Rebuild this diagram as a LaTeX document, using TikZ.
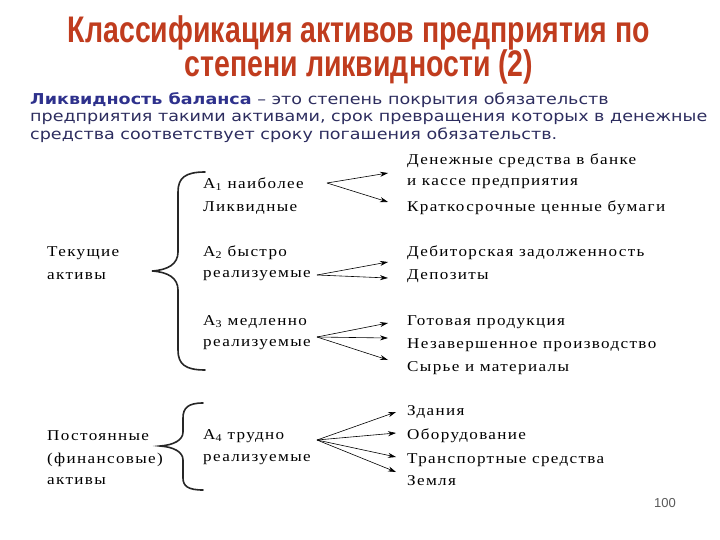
\documentclass[tikz,border=0pt]{standalone}
\usepackage{fontspec}
\setmainfont{Liberation Serif}
\newfontfamily\titlefont[FakeStretch=0.77]{Liberation Sans}
\newfontfamily\notefont[FakeStretch=1.17]{DejaVu Sans}
\newfontfamily\boxfont[LetterSpace=9,FakeStretch=1.14]{Liberation Serif}
\newfontfamily\numfont{Liberation Sans}
\usetikzlibrary{arrows.meta}
\definecolor{titlered}{RGB}{192,60,30}
\definecolor{notenavy}{RGB}{45,45,95}
\definecolor{boldnavy}{RGB}{46,49,140}

\tikzset{
  lbl/.style={anchor=west,inner sep=0pt,font=\boxfont\fontsize{15}{17}\selectfont},
  ttl/.style={inner sep=0pt,text=titlered,font=\titlefont\bfseries\fontsize{37}{37}\selectfont},
  arr/.style={-{Stealth[length=8pt,width=5pt]},semithick},
  brc/.style={line width=1.6pt,line cap=round,black!85},
}

\begin{document}
\begin{tikzpicture}[x=1pt,y=-1pt]
  \useasboundingbox (0,0) rectangle (720,540);

  % title
  \draw (359,33) node[ttl] (title1) {Классификация активов предприятия по};
  \draw (359,67) node[ttl] (title2) {степени ликвидности (2)};

  \draw (30,92) node[anchor=north west,inner sep=0pt,align=left,text=notenavy,
    font=\notefont\fontsize{15}{17.5}\selectfont] (note)
    {\textcolor{boldnavy}{\bfseries Ликвидность баланса} – это степень покрытия обязательств\\
     предприятия такими активами, срок превращения которых в денежные\\
     средства соответствует сроку погашения обязательств.};

  % left column
  \draw (47,253) node[lbl] (tek1) {Текущие};
  \draw (47,276) node[lbl] (tek2) {активы};
  \draw (47,436) node[lbl] (post1) {Постоянные};
  \draw (47,460) node[lbl] (post2) {(финансовые)};
  \draw (47,481) node[lbl] (post3) {активы};

  % groups
  \draw (203,184) node[lbl] (a1) {А\textsubscript{1} наиболее};
  \draw (203,208) node[lbl] (a1b) {Ликвидные};
  \draw (203,253) node[lbl] (a2) {А\textsubscript{2} быстро};
  \draw (203,276) node[lbl] (a2b) {реализуемые};
  \draw (203,322) node[lbl] (a3) {А\textsubscript{3} медленно};
  \draw (203,345) node[lbl] (a3b) {реализуемые};
  \draw (203,436) node[lbl] (a4) {А\textsubscript{4} трудно};
  \draw (203,460) node[lbl] (a4b) {реализуемые};

  % items
  \draw (407,161) node[lbl] (den1) {Денежные средства в банке};
  \draw (407,184) node[lbl] (den2) {и кассе предприятия};
  \draw (407,208) node[lbl] (kfv) {Краткосрочные ценные бумаги};
  \draw (407,253) node[lbl] (deb) {Дебиторская задолженность};
  \draw (407,276) node[lbl] (dep) {Депозиты};
  \draw (407,322) node[lbl] (gp) {Готовая продукция};
  \draw (407,345) node[lbl] (nzp) {Незавершенное производство};
  \draw (407,368) node[lbl] (syr) {Сырье и материалы};
  \draw (407,412) node[lbl] (zd) {Здания};
  \draw (407,436) node[lbl] (obr) {Оборудование};
  \draw (407,460) node[lbl] (trs) {Транспортные средства};
  \draw (407,481) node[lbl] (zem) {Земля};

  % braces
  \draw[brc] (205,172) .. controls (185,172) and (178,178) .. (178,192) -- (178,252)
    .. controls (178,264) and (168,270) .. (152,271)
    .. controls (168,272) and (178,278) .. (178,290) -- (178,350)
    .. controls (178,364) and (185,370) .. (205,370);
  \draw[brc] (203,403) .. controls (188,403) and (183,408) .. (183,418) -- (183,432)
    .. controls (183,440) and (174,445) .. (160,446)
    .. controls (174,447) and (183,452) .. (183,460) -- (183,478)
    .. controls (183,486) and (188,490) .. (203,490);

  % arrow ends
  \coordinate (o1) at (327,183);
  \coordinate (o2) at (317,275);
  \coordinate (o3) at (317,337);
  \coordinate (o4) at (317,440);
  \coordinate (t11) at (388,173);
  \coordinate (t12) at (388,202);
  \coordinate (t21) at (388,262);
  \coordinate (t22) at (388,278);
  \coordinate (t31) at (388,323);
  \coordinate (t32) at (388,338);
  \coordinate (t33) at (388,360);
  \coordinate (t41) at (396,412);
  \coordinate (t42) at (396,433);
  \coordinate (t43) at (396,457);
  \coordinate (t44) at (396,472);

  \draw[arr] (o1) -- (t11);
  \draw[arr] (o1) -- (t12);
  \draw[arr] (o2) -- (t21);
  \draw[arr] (o2) -- (t22);
  \draw[arr] (o3) -- (t31);
  \draw[arr] (o3) -- (t32);
  \draw[arr] (o3) -- (t33);
  \draw[arr] (o4) -- (t41);
  \draw[arr] (o4) -- (t42);
  \draw[arr] (o4) -- (t43);
  \draw[arr] (o4) -- (t44);

  \draw (665,503) node[inner sep=0pt,text=black!65,font=\numfont\fontsize{13}{13}\selectfont] (pagenum) {100};

\end{tikzpicture}
\end{document}
